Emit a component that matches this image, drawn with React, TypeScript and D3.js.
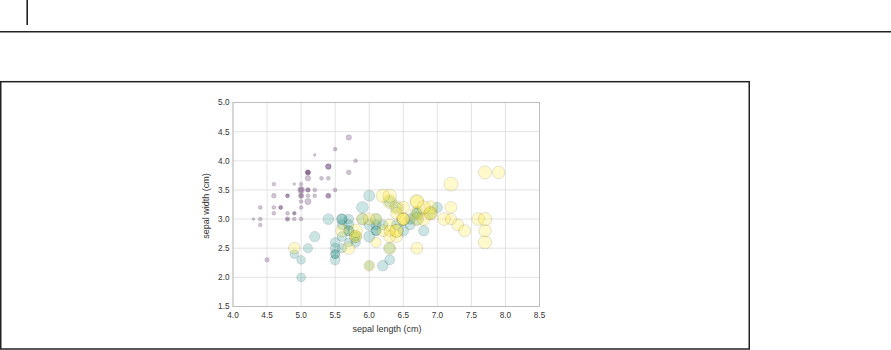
import React, { useEffect, useRef } from "react";
import * as d3 from "d3";

// Iris dataset (sklearn version): sepal length, sepal width, petal width, species
const sepalLength = [
  5.1, 4.9, 4.7, 4.6, 5.0, 5.4, 4.6, 5.0, 4.4, 4.9, 5.4, 4.8, 4.8, 4.3, 5.8, 5.7, 5.4, 5.1, 5.7, 5.1,
  5.4, 5.1, 4.6, 5.1, 4.8, 5.0, 5.0, 5.2, 5.2, 4.7, 4.8, 5.4, 5.2, 5.5, 4.9, 5.0, 5.5, 4.9, 4.4, 5.1,
  5.0, 4.5, 4.4, 5.0, 5.1, 4.8, 5.1, 4.6, 5.3, 5.0,
  7.0, 6.4, 6.9, 5.5, 6.5, 5.7, 6.3, 4.9, 6.6, 5.2, 5.0, 5.9, 6.0, 6.1, 5.6, 6.7, 5.6, 5.8, 6.2, 5.6,
  5.9, 6.1, 6.3, 6.1, 6.4, 6.6, 6.8, 6.7, 6.0, 5.7, 5.5, 5.5, 5.8, 6.0, 5.4, 6.0, 6.7, 6.3, 5.6, 5.5,
  5.5, 6.1, 5.8, 5.0, 5.6, 5.7, 5.7, 6.2, 5.1, 5.7,
  6.3, 5.8, 7.1, 6.3, 6.5, 7.6, 4.9, 7.3, 6.7, 7.2, 6.5, 6.4, 6.8, 5.7, 5.8, 6.4, 6.5, 7.7, 7.7, 6.0,
  6.9, 5.6, 7.7, 6.3, 6.7, 7.2, 6.2, 6.1, 6.4, 7.2, 7.4, 7.9, 6.4, 6.3, 6.1, 7.7, 6.3, 6.4, 6.0, 6.9,
  6.7, 6.9, 5.8, 6.8, 6.7, 6.7, 6.3, 6.5, 6.2, 5.9,
];
const sepalWidth = [
  3.5, 3.0, 3.2, 3.1, 3.6, 3.9, 3.4, 3.4, 2.9, 3.1, 3.7, 3.4, 3.0, 3.0, 4.0, 4.4, 3.9, 3.5, 3.8, 3.8,
  3.4, 3.7, 3.6, 3.3, 3.4, 3.0, 3.4, 3.5, 3.4, 3.2, 3.1, 3.4, 4.1, 4.2, 3.1, 3.2, 3.5, 3.6, 3.0, 3.4,
  3.5, 2.3, 3.2, 3.5, 3.8, 3.0, 3.8, 3.2, 3.7, 3.3,
  3.2, 3.2, 3.1, 2.3, 2.8, 2.8, 3.3, 2.4, 2.9, 2.7, 2.0, 3.0, 2.2, 2.9, 2.9, 3.1, 3.0, 2.7, 2.2, 2.5,
  3.2, 2.8, 2.5, 2.8, 2.9, 3.0, 2.8, 3.0, 2.9, 2.6, 2.4, 2.4, 2.7, 2.7, 3.0, 3.4, 3.1, 2.3, 3.0, 2.5,
  2.6, 3.0, 2.6, 2.3, 2.7, 3.0, 2.9, 2.9, 2.5, 2.8,
  3.3, 2.7, 3.0, 2.9, 3.0, 3.0, 2.5, 2.9, 2.5, 3.6, 3.2, 2.7, 3.0, 2.5, 2.8, 3.2, 3.0, 3.8, 2.6, 2.2,
  3.2, 2.8, 2.8, 2.7, 3.3, 3.2, 2.8, 3.0, 2.8, 3.0, 2.8, 3.8, 2.8, 2.8, 2.6, 3.0, 3.4, 3.1, 3.0, 3.1,
  3.1, 3.1, 2.7, 3.2, 3.3, 3.0, 2.5, 3.0, 3.4, 3.0,
];
const petalWidth = [
  0.2, 0.2, 0.2, 0.2, 0.2, 0.4, 0.3, 0.2, 0.2, 0.1, 0.2, 0.2, 0.1, 0.1, 0.2, 0.4, 0.4, 0.3, 0.3, 0.3,
  0.2, 0.4, 0.2, 0.5, 0.2, 0.2, 0.4, 0.2, 0.2, 0.2, 0.2, 0.4, 0.1, 0.2, 0.2, 0.2, 0.2, 0.1, 0.2, 0.2,
  0.3, 0.3, 0.2, 0.6, 0.4, 0.3, 0.2, 0.2, 0.2, 0.2,
  1.4, 1.5, 1.5, 1.3, 1.5, 1.3, 1.6, 1.0, 1.3, 1.4, 1.0, 1.5, 1.0, 1.4, 1.3, 1.4, 1.5, 1.0, 1.5, 1.1,
  1.8, 1.3, 1.5, 1.2, 1.3, 1.4, 1.4, 1.7, 1.5, 1.0, 1.1, 1.0, 1.2, 1.6, 1.5, 1.6, 1.5, 1.3, 1.3, 1.3,
  1.2, 1.4, 1.2, 1.0, 1.3, 1.2, 1.3, 1.3, 1.1, 1.3,
  2.5, 1.9, 2.1, 1.8, 2.2, 2.1, 1.7, 1.8, 1.8, 2.5, 2.0, 1.9, 2.1, 2.0, 2.4, 2.3, 1.8, 2.2, 2.3, 1.5,
  2.3, 2.0, 2.0, 1.8, 2.1, 1.8, 1.8, 1.8, 2.1, 1.6, 1.9, 2.0, 2.2, 1.5, 1.4, 2.3, 2.4, 1.8, 1.8, 2.1,
  2.4, 2.3, 1.9, 2.3, 2.5, 2.3, 1.9, 2.0, 2.3, 1.8,
];
const species = [
  ...Array(50).fill(0),
  ...Array(50).fill(1),
  ...Array(50).fill(2),
];

const xTicks = [4.0, 4.5, 5.0, 5.5, 6.0, 6.5, 7.0, 7.5, 8.0, 8.5];
const yTicks = [1.5, 2.0, 2.5, 3.0, 3.5, 4.0, 4.5, 5.0];
const xLabel = "sepal length (cm)";
const yLabel = "sepal width (cm)";

export default function App() {
  const ref = useRef<SVGSVGElement | null>(null);

  useEffect(() => {
    const svg = d3.select(ref.current);
    svg.selectAll("*").remove();

    const W = 891;
    const left = 233, right = 539.5, top = 102.5, bottom = 306.5;
    const font = "'Liberation Sans', Arial, sans-serif";

    // page decorations
    svg.append("line").attr("x1", 27.2).attr("x2", 27.2).attr("y1", 0).attr("y2", 25)
      .attr("stroke", "#222").attr("stroke-width", 1.6);
    svg.append("line").attr("x1", 0).attr("x2", W).attr("y1", 31.7).attr("y2", 31.7)
      .attr("stroke", "#222").attr("stroke-width", 1.4);
    svg.append("rect").attr("x", 0.75).attr("y", 81.7).attr("width", 748.5).attr("height", 267.3)
      .attr("fill", "none").attr("stroke", "#222").attr("stroke-width", 1.5);

    const x = d3.scaleLinear().domain([4.0, 8.5]).range([left, right]);
    const y = d3.scaleLinear().domain([1.5, 5.0]).range([bottom, top]);

    const g = svg.append("g");

    // grid
    g.selectAll(".gx").data(xTicks).enter().append("line")
      .attr("x1", (d) => x(d)).attr("x2", (d) => x(d)).attr("y1", top).attr("y2", bottom)
      .attr("stroke", "#dcdcdc").attr("stroke-width", 0.8);
    g.selectAll(".gy").data(yTicks).enter().append("line")
      .attr("x1", left).attr("x2", right).attr("y1", (d) => y(d)).attr("y2", (d) => y(d))
      .attr("stroke", "#dcdcdc").attr("stroke-width", 0.8);

    // frame
    g.append("rect").attr("x", left).attr("y", top).attr("width", right - left).attr("height", bottom - top)
      .attr("fill", "none").attr("stroke", "#bdbdbd").attr("stroke-width", 1);

    // points
    const color = (s: number) => d3.interpolateViridis(s / 2);
    const idx = d3.range(sepalLength.length);
    g.selectAll(".pt").data(idx).enter().append("circle")
      .attr("cx", (i) => x(sepalLength[i]))
      .attr("cy", (i) => y(sepalWidth[i]))
      .attr("r", (i) => 0.44 * Math.sqrt(100 * petalWidth[i]))
      .attr("fill", (i) => color(species[i]))
      .attr("fill-opacity", 0.24)
      .attr("stroke", "#000")
      .attr("stroke-opacity", 0.18)
      .attr("stroke-width", 0.6);

    // tick labels
    g.selectAll(".tx").data(xTicks).enter().append("text")
      .attr("x", (d) => x(d)).attr("y", 317.8)
      .attr("text-anchor", "middle")
      .attr("font-family", font).attr("font-size", 8.2).attr("fill", "#333")
      .text((d) => d3.format(".1f")(d));
    g.selectAll(".ty").data(yTicks).enter().append("text")
      .attr("x", 229.5).attr("y", (d) => y(d) + 2.9)
      .attr("text-anchor", "end")
      .attr("font-family", font).attr("font-size", 8.2).attr("fill", "#333")
      .text((d) => d3.format(".1f")(d));

    // axis labels
    g.append("text").attr("x", 387).attr("y", 332)
      .attr("text-anchor", "middle")
      .attr("font-family", font).attr("font-size", 9).attr("fill", "#333")
      .text(xLabel);
    g.append("text")
      .attr("transform", `translate(${208.6},${206}) rotate(-90)`)
      .attr("text-anchor", "middle")
      .attr("font-family", font).attr("font-size", 9).attr("fill", "#333")
      .text(yLabel);
  }, []);

  return (
    <svg
      ref={ref}
      width={891}
      height={350}
      style={{ position: "absolute", left: 0, top: 0, background: "#fff" }}
    />
  );
}
